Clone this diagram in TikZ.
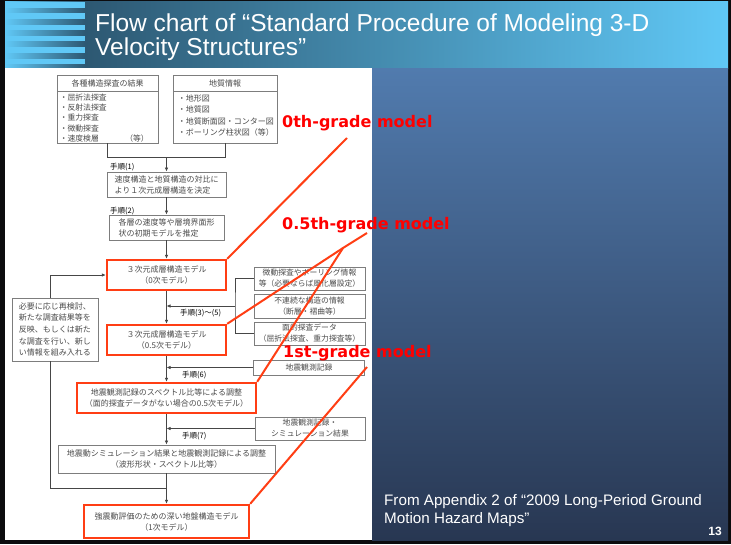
\documentclass[tikz,border=0pt]{standalone}
\usepackage{fontspec}
\setmainfont{Liberation Sans}
\newfontfamily\jpfont{Noto Sans CJK JP}
\newfontfamily\labelfont{DejaVu Sans}
\usetikzlibrary{arrows.meta}
\definecolor{slideBlack}{RGB}{12,12,14}
\definecolor{titleDark}{RGB}{45,88,114}
\definecolor{titleLight}{RGB}{96,200,246}
\definecolor{panelTop}{RGB}{81,123,174}
\definecolor{panelBottom}{RGB}{40,55,82}
\definecolor{boxGray}{RGB}{125,125,125}
\definecolor{lineGray}{RGB}{70,70,70}
\definecolor{textGray}{RGB}{75,75,75}
\definecolor{gradeRed}{RGB}{255,0,0}
\definecolor{markRed}{RGB}{255,62,20}

\begin{document}
\begin{tikzpicture}[x=1pt, y=-1pt,
    flowbox/.style={draw=boxGray, line width=0.8pt, fill=white, inner sep=2pt, text=textGray,
      align=center, font=\jpfont\fontsize{8}{11}\selectfont},
    gradebox/.style={flowbox, draw=markRed, line width=2.4pt},
    infobox/.style={flowbox, minimum width=111pt, font=\jpfont\fontsize{7.8}{11}\selectfont},
    listtext/.style={inner sep=0pt, text=textGray, align=left, font=\jpfont\fontsize{7.8}{10.3}\selectfont},
    steplabel/.style={inner sep=0pt, text=black, font=\jpfont\fontsize{7.5}{9}\selectfont, anchor=base west},
    flowline/.style={draw=lineGray, line width=0.7pt},
    flowarrow/.style={flowline, -{Latex[length=4pt,width=3.4pt]}},
    gradelabel/.style={inner sep=0pt, text=gradeRed, anchor=base west, font=\labelfont\bfseries\fontsize{16}{16}\selectfont},
    markline/.style={draw=markRed, line width=2pt},
    titletext/.style={inner sep=0pt, text=white, anchor=base west, font=\fontsize{24.5}{26}\selectfont},
    foottext/.style={inner sep=0pt, text=white, anchor=base west, font=\fontsize{15.2}{18}\selectfont},
  ]
  \useasboundingbox (0,0) rectangle (731,544);

  % slide background
  \fill[slideBlack] (0,0) rectangle (731,544);
  \shade[left color=titleLight, right color=titleDark] (5,1) rectangle (85,68);
  \foreach \k in {0,...,5}
    \fill[titleLight] (5,{2+11.3*\k}) rectangle (85,{7.5+11.3*\k});
  \shade[left color=titleDark, right color=titleLight] (85,1) rectangle (728,68);
  \fill[white] (5,68) rectangle (372,540);
  \shade[top color=panelTop, bottom color=panelBottom] (372,68) rectangle (728,540);

  \node[titletext] (titleTop) at (95,31) {Flow chart of “Standard Procedure of Modeling 3-D};
  \node[titletext] (titleBottom) at (95,55) {Velocity Structures”};

  % input data boxes
  \node[flowbox, minimum width=101pt, minimum height=68pt] (boxA) at (107.5,109) {};
  \node[flowbox, minimum width=101pt, minimum height=16pt, anchor=north] (headA) at (boxA.north) {各種構造探査の結果};
  \node[listtext, anchor=north west] (listA) at ([xshift=3pt,yshift=-2pt]headA.south west)
    {・屈折法探査\\・反射法探査\\・重力探査\\・微動探査\\・速度検層\hspace{3.4em}（等）};
  \node[flowbox, minimum width=104pt, minimum height=68pt] (boxB) at (225,109) {};
  \node[flowbox, minimum width=104pt, minimum height=16pt, anchor=north] (headB) at (boxB.north) {地質情報};
  \node[listtext, anchor=north west, font=\jpfont\fontsize{8}{11.5}\selectfont] (listB) at ([xshift=5pt,yshift=-3pt]headB.south west)
    {・地形図\\・地質図\\・地質断面図・コンター図\\・ボーリング柱状図（等）};

  % main column
  \node[flowbox, minimum width=119pt, minimum height=25pt, align=left] (boxC) at (166.5,184.5)
    {速度構造と地質構造の対比に\\より１次元成層構造を決定};
  \node[flowbox, minimum width=115pt, minimum height=25pt, align=left] (boxD) at (166.5,227.5)
    {各層の速度等や層境界面形\\状の初期モデルを推定};
  \node[gradebox, minimum width=119pt, minimum height=30pt] (boxE) at (166.5,275)
    {３次元成層構造モデル\\（0次モデル）};
  \node[gradebox, minimum width=119pt, minimum height=30pt] (boxG) at (166.5,340)
    {３次元成層構造モデル\\（0.5次モデル）};
  \node[gradebox, minimum width=179pt, minimum height=30pt] (boxH) at (166.5,398)
    {地震観測記録のスペクトル比等による調整\\（面的探査データがない場合の0.5次モデル）};
  \node[flowbox, minimum width=217pt, minimum height=28pt] (boxSim) at (166.5,459)
    {地震動シミュレーション結果と地震観測記録による調整\\（波形形状・スペクトル比等）};
  \node[gradebox, minimum width=165pt, minimum height=33pt] (boxFirst) at (166.5,521.5)
    {強震動評価のための深い地盤構造モデル\\（1次モデル）};

  % feedback box on the left
  \node[flowbox, minimum width=86pt, minimum height=63pt, align=left, font=\jpfont\fontsize{8}{11.7}\selectfont] (boxRevise) at (55,329.5)
    {必要に応じ再検討、\\新たな調査結果等を\\反映、もしくは新た\\な調査を行い、新し\\い情報を組み入れる};

  % extra information on the right
  \node[infobox, minimum height=23pt] (boxMicro) at (309.5,278.5) {微動探査やボーリング情報\\等（必要ならば風化層設定）};
  \node[infobox, minimum height=24pt] (boxFault) at (309.5,306) {不連続な構造の情報\\（断層・褶曲等）};
  \node[infobox, minimum height=23pt] (boxSurvey) at (309.5,333.5) {面的探査データ\\（屈折法探査、重力探査等）};
  \node[infobox, minimum height=15pt, inner sep=1pt] (boxRecord) at (309,367.5) {地震観測記録};
  \node[infobox, minimum width=110pt, minimum height=23pt] (boxRecSim) at (310,428.5) {地震観測記録・\\シミュレーション結果};

  % step labels
  \node[steplabel] (step1) at (110,169) {手順(1)};
  \node[steplabel] (step2) at (110,213.5) {手順(2)};
  \node[steplabel] (step3) at (180,315.5) {手順(3)～(5)};
  \node[steplabel] (step6) at (182,377) {手順(6)};
  \node[steplabel] (step7) at (182,438) {手順(7)};

  % connectors
  \coordinate (merge) at (166.5,157);
  \draw[flowline] (boxA.south) |- (merge);
  \draw[flowline] (boxB.south) |- (merge);
  \draw[flowarrow] (merge) -- (boxC.north);
  \draw[flowarrow] (boxC) -- (boxD);
  \draw[flowarrow] (boxD) -- (boxE);
  \draw[flowarrow] (boxE) -- (boxG);
  \draw[flowarrow] (boxG) -- (boxH);
  \draw[flowarrow] (boxH) -- (boxSim);
  \draw[flowarrow] (boxSim) -- (boxFirst);

  \coordinate (bracket) at (235,306);
  \draw[flowline] (boxMicro.west) -| (bracket) |- (boxSurvey.west);
  \draw[flowarrow] (bracket) -- (bracket -| boxE.south);
  \draw[flowarrow] (boxRecord.west) -- (boxRecord.west -| boxG.south);
  \draw[flowarrow] (boxRecSim.west) -- (boxRecSim.west -| boxH.south);

  \draw[flowarrow] ([xshift=-5pt]boxRevise.north) |- (boxE.west);
  \coordinate (loopJoin) at (166.5,488);
  \draw[flowline] ([xshift=-5pt]boxRevise.south) |- (loopJoin);

  % model grade call-outs
  \coordinate (tip0) at (347,138);
  \coordinate (tip05) at (367,233);
  \coordinate (fork05) at (343,248);
  \coordinate (tip1) at (367,367);
  \draw[markline] (tip0) -- (boxE.north east);
  \draw[markline] (tip05) -- (fork05) -- (boxG.north east);
  \draw[markline] (fork05) -- (boxH.north east);
  \draw[markline] (tip1) -- (boxFirst.north east);

  \node[gradelabel] (grade0) at (282,127) {0th-grade model};
  \node[gradelabel] (grade05) at (282,229) {0.5th-grade model};
  \node[gradelabel] (grade1) at (283,357) {1st-grade model};

  % source note and page number
  \node[foottext] (sourceTop) at (384,505) {From Appendix 2 of “2009 Long-Period Ground};
  \node[foottext] (sourceBottom) at (384,523) {Motion Hazard Maps”};
  \node[inner sep=0pt, text=white, anchor=base east, font=\bfseries\fontsize{12}{12}\selectfont] (pageNo) at (722,535) {13};
\end{tikzpicture}
\end{document}
